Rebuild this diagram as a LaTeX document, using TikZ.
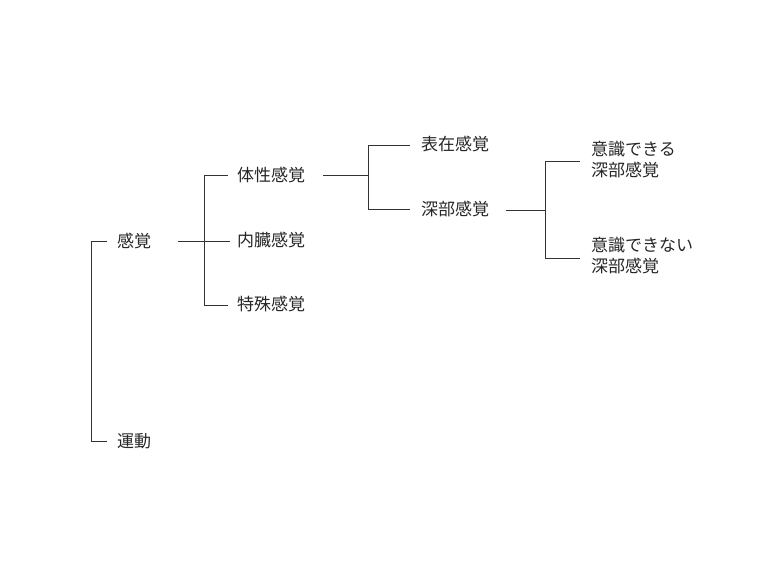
\documentclass[tikz,border=0pt]{standalone}
\usepackage{fontspec}
\setmainfont{Noto Sans CJK JP}
\begin{document}
\begin{tikzpicture}[x=1pt,y=-1pt,
  ln/.style={draw=black!80,line width=0.8pt},
  lb/.style={anchor=west,inner sep=0pt,font=\fontsize{17}{21}\selectfont,text=black!85},
  lb2/.style={lb,align=left}]
\useasboundingbox (0,0) rectangle (768,576);
\node[lb] (kk) at (117,241) {感覚};
\node[lb] (ud) at (117,441) {運動};
\node[lb] (ts) at (237,175) {体性感覚};
\node[lb] (nz) at (237,240) {内臓感覚};
\node[lb] (ss) at (237,304) {特殊感覚};
\node[lb] (hz) at (421,144) {表在感覚};
\node[lb] (sb) at (421,209) {深部感覚};
\node[lb2] (ik) at (591,160) {意識できる\\深部感覚};
\node[lb2] (in) at (591,256) {意識できない\\深部感覚};
\coordinate (a) at (91,241);
\draw[ln] (107,241) -- (91,241) -- (91,441) -- (107,441);
\draw[ln] (178,241) -- (230,241);
\draw[ln] (228,175) -- (204,175) -- (204,305) -- (228,305);
\draw[ln] (323,175) -- (368,175);
\draw[ln] (410,145) -- (368,145) -- (368,209) -- (410,209);
\draw[ln] (506,210) -- (545,210);
\draw[ln] (580,161) -- (545,161) -- (545,258) -- (580,258);
\end{tikzpicture}
\end{document}
